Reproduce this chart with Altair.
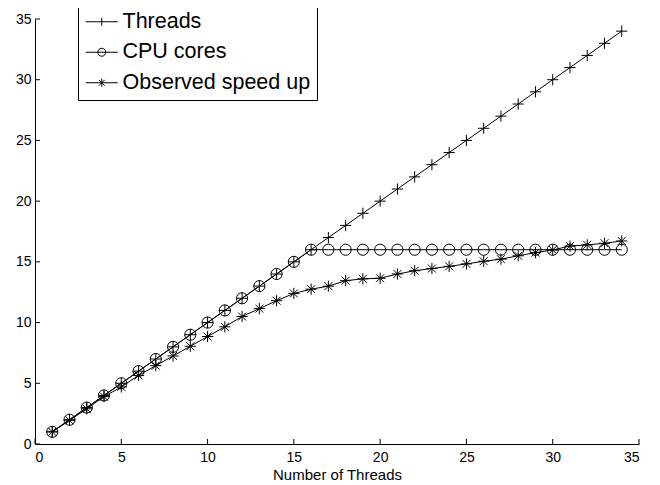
import altair as alt
import pandas as pd

# ---- data ----
thread_counts = [1, 2, 3, 4, 5, 6, 7, 8, 9, 10, 11, 12, 13, 14, 15, 16, 17,
                 18, 19, 20, 21, 22, 23, 24, 25, 26, 27, 28, 29, 30, 31, 32, 33, 34]
threads_vals = [1, 2, 3, 4, 5, 6, 7, 8, 9, 10, 11, 12, 13, 14, 15, 16, 17,
                18, 19, 20, 21, 22, 23, 24, 25, 26, 27, 28, 29, 30, 31, 32, 33, 34]
cpu_vals = [1, 2, 3, 4, 5, 6, 7, 8, 9, 10, 11, 12, 13, 14, 15, 16, 16,
            16, 16, 16, 16, 16, 16, 16, 16, 16, 16, 16, 16, 16, 16, 16, 16, 16]
observed_vals = [1.0, 1.95, 2.9, 3.9, 4.7, 5.65, 6.45, 7.25, 8.05, 8.85, 9.65,
                 10.5, 11.15, 11.8, 12.4, 12.75, 13.0, 13.45, 13.6, 13.65, 14.0,
                 14.27, 14.45, 14.63, 14.83, 15.05, 15.22, 15.5, 15.76, 15.98,
                 16.3, 16.4, 16.53, 16.72]
series_names = ["Threads", "CPU cores", "Observed speed up"]
tick_values = [0, 5, 10, 15, 20, 25, 30, 35]

rows = []
for name, vals in zip(series_names, [threads_vals, cpu_vals, observed_vals]):
    for x, v in zip(thread_counts, vals):
        rows.append({"threads": x, "value": v, "series": name})
df = pd.DataFrame(rows)
ticks_df = pd.DataFrame({"t": tick_values})

W, H = 604, 425
FONT = "Liberation Sans"

marker_paths = [
    "M-1,0H1M0,-1V1",
    "M1,0A1,1,0,1,1,-1,0A1,1,0,1,1,1,0",
    "M-1,0H1M0,-1V1M-0.71,-0.71L0.71,0.71M-0.71,0.71L0.71,-0.71",
]
legend_paths = [
    "M-4,0H4M0,-1V1",
    "M-4,0H4M1,0A1,1,0,1,1,-1,0A1,1,0,1,1,1,0",
    "M-4,0H4M0,-1V1M-0.71,-0.71L0.71,0.71M-0.71,0.71L0.71,-0.71",
]

xscale = alt.Scale(domain=[0, 35], nice=False, zero=False)
yscale = alt.Scale(domain=[0, 35], nice=False, zero=False)

x_axis = alt.Axis(values=tick_values, title="Number of Threads",
                  tickSize=0, labelPadding=6, titlePadding=3, format="d")
y_axis = alt.Axis(values=tick_values, title=None, tickSize=0,
                  labelPadding=4, format="d")

x_enc = alt.X("threads:Q", scale=xscale, axis=x_axis)
y_enc = alt.Y("value:Q", scale=yscale, axis=y_axis)

base = alt.Chart(df)

lines = base.mark_line(color="black", strokeWidth=1).encode(
    x=x_enc, y=y_enc, detail="series:N", order="threads:Q"
)

points = base.mark_point(filled=False, color="black", strokeWidth=1,
                         size=125, opacity=1).encode(
    x=x_enc, y=y_enc,
    shape=alt.Shape("series:N",
                    scale=alt.Scale(domain=series_names, range=marker_paths),
                    legend=None),
)

legend_layer = base.transform_filter("false").mark_point(
    filled=False, color="black", strokeWidth=1, size=64, opacity=1
).encode(
    x=x_enc, y=y_enc,
    shape=alt.Shape(
        "series:N",
        scale=alt.Scale(domain=series_names, range=legend_paths),
        legend=alt.Legend(
            orient="none", legendX=43, legendY=-14, title=None,
            labelFont=FONT, labelFontSize=21.5, labelColor="black",
            labelLimit=0,
            strokeColor="black", fillColor="white", padding=6,
            symbolStrokeColor="black", symbolFillColor="transparent",
            symbolStrokeWidth=1, symbolSize=64, symbolOffset=7,
            labelOffset=10, rowPadding=7.5,
        ),
    ),
)

xticks = alt.Chart(ticks_df).mark_rule(color="black", strokeWidth=1).encode(
    x=alt.X("t:Q", scale=xscale, axis=x_axis),
    y=alt.value(H), y2=alt.value(H - 5),
)
yticks = alt.Chart(ticks_df).mark_rule(color="black", strokeWidth=1).encode(
    y=alt.Y("t:Q", scale=yscale, axis=y_axis),
    x=alt.value(0), x2=alt.value(5),
)

chart = alt.layer(lines, points, legend_layer, xticks, yticks).resolve_scale(
    shape="independent"
).properties(
    width=W, height=H,
    padding={"left": 27, "top": 11, "right": 10, "bottom": 40},
    autosize=alt.AutoSizeParams(type="none"),
).configure_view(stroke=None).configure_axis(
    domainColor="black", domainWidth=1, grid=False,
    labelFont=FONT, labelFontSize=14, labelColor="black",
    titleFont=FONT, titleFontSize=15, titleFontWeight="normal",
    titleColor="black",
)

chart.save("out.html", embed_options={"renderer": "svg", "actions": False})
